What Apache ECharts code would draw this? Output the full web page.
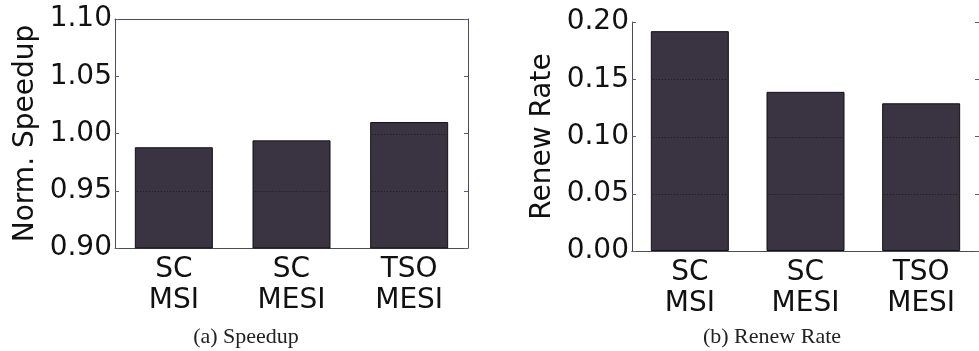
<!DOCTYPE html>
<html>
<head>
<meta charset="utf-8">
<script src="https://cdn.jsdelivr.net/npm/echarts@6/dist/echarts.min.js"></script>
<style>
html,body{margin:0;padding:0;background:#fff;}
#c{width:979px;height:351px;}
</style>
</head>
<body>
<div id="c"></div>
<script>
var categories = ['SC\nMSI', 'SC\nMESI', 'TSO\nMESI'];
var speedupValues = [0.988, 0.994, 1.010];
var renewValues = [0.192, 0.139, 0.129];
var speedupTicks = { min: 0.90, max: 1.10, interval: 0.05 };
var renewTicks = { min: 0.00, max: 0.20, interval: 0.05 };

var axisColor = '#4a4a5c';
var barColor = '#3a3341';
var font = 'DejaVu Sans';
var BAR_W = 78;

function xAxis(gi) {
  return {
    type: 'category', gridIndex: gi, data: categories,
    axisLine: { show: true, lineStyle: { color: axisColor, width: 1 } },
    axisTick: { show: false },
    axisLabel: { fontFamily: font, fontSize: 28, color: '#111', lineHeight: 31, margin: 6 },
    splitLine: { show: false }
  };
}
function xTop(gi) {
  return {
    type: 'category', gridIndex: gi, position: 'top', data: categories,
    axisLine: { show: true, lineStyle: { color: axisColor, width: 1 } },
    axisTick: { show: false }, axisLabel: { show: false }
  };
}
function yAxis(gi, t, name, dec, gap) {
  return {
    type: 'value', gridIndex: gi, min: t.min, max: t.max, interval: t.interval,
    name: name, nameLocation: 'middle', nameGap: gap, nameRotate: 90,
    nameTextStyle: { fontFamily: font, fontSize: 28, color: '#111' },
    axisLine: { show: true, lineStyle: { color: axisColor, width: 1 } },
    axisTick: { show: true, inside: true, length: 4, lineStyle: { color: '#5a5a90' } },
    axisLabel: { fontFamily: font, fontSize: 28, color: '#111', margin: 3,
      formatter: function (v) { return v.toFixed(dec); } },
    splitLine: { show: false }
  };
}
function yRight(gi, t) {
  return {
    type: 'value', gridIndex: gi, position: 'right', min: t.min, max: t.max, interval: t.interval,
    axisLine: { show: true, lineStyle: { color: axisColor, width: 1 } },
    axisTick: { show: true, inside: true, length: 4, lineStyle: { color: '#5a5a90' } },
    axisLabel: { show: false }, splitLine: { show: false }
  };
}
// dotted grid lines visible only across the bars (as in the reference)
function gridDots(xi, yi, values, t) {
  return {
    type: 'custom', xAxisIndex: xi, yAxisIndex: yi, z: 5, silent: true,
    data: values.map(function (v, i) { return [i, v]; }),
    renderItem: function (params, api) {
      var idx = api.value(0), val = api.value(1);
      var children = [];
      for (var k = 1; t.min + k * t.interval < val - 1e-9; k++) {
        var y = t.min + k * t.interval;
        var p = api.coord([idx, y]);
        children.push({
          type: 'line',
          shape: { x1: p[0] - BAR_W / 2 + 2, y1: Math.round(p[1]) + 0.5, x2: p[0] + BAR_W / 2 - 2, y2: Math.round(p[1]) + 0.5 },
          style: { stroke: '#1e1619', lineWidth: 1, lineDash: [1, 2] }
        });
      }
      return { type: 'group', children: children };
    }
  };
}

var chart = echarts.init(document.getElementById('c'), null, { renderer: 'canvas' });
chart.setOption({
  animation: false,
  backgroundColor: '#fff',
  title: [
    { text: '(a) Speedup', left: 241, top: 321, textAlign: 'center',
      textStyle: { fontFamily: 'Liberation Serif', fontWeight: 'normal', fontSize: 22, color: '#222' } },
    { text: '(b) Renew Rate', left: 767, top: 321, textAlign: 'center',
      textStyle: { fontFamily: 'Liberation Serif', fontWeight: 'normal', fontSize: 22, color: '#222' } }
  ],
  grid: [
    { left: 115, top: 19, width: 353, height: 229 },
    { left: 632, top: 22, width: 356, height: 229 }
  ],
  xAxis: [xAxis(0), xTop(0), xAxis(1), xTop(1)],
  yAxis: [
    yAxis(0, speedupTicks, 'Norm. Speedup', 2, 75), yRight(0, speedupTicks),
    yAxis(1, renewTicks, 'Renew Rate', 2, 75), yRight(1, renewTicks)
  ],
  series: [
    { type: 'bar', xAxisIndex: 0, yAxisIndex: 0, data: speedupValues, barWidth: BAR_W,
      itemStyle: { color: barColor, borderColor: '#111', borderWidth: 1 } },
    { type: 'bar', xAxisIndex: 2, yAxisIndex: 2, data: renewValues, barWidth: BAR_W,
      itemStyle: { color: barColor, borderColor: '#111', borderWidth: 1 } },
    gridDots(0, 0, speedupValues, speedupTicks),
    gridDots(2, 2, renewValues, renewTicks)
  ]
});
</script>
</body>
</html>
